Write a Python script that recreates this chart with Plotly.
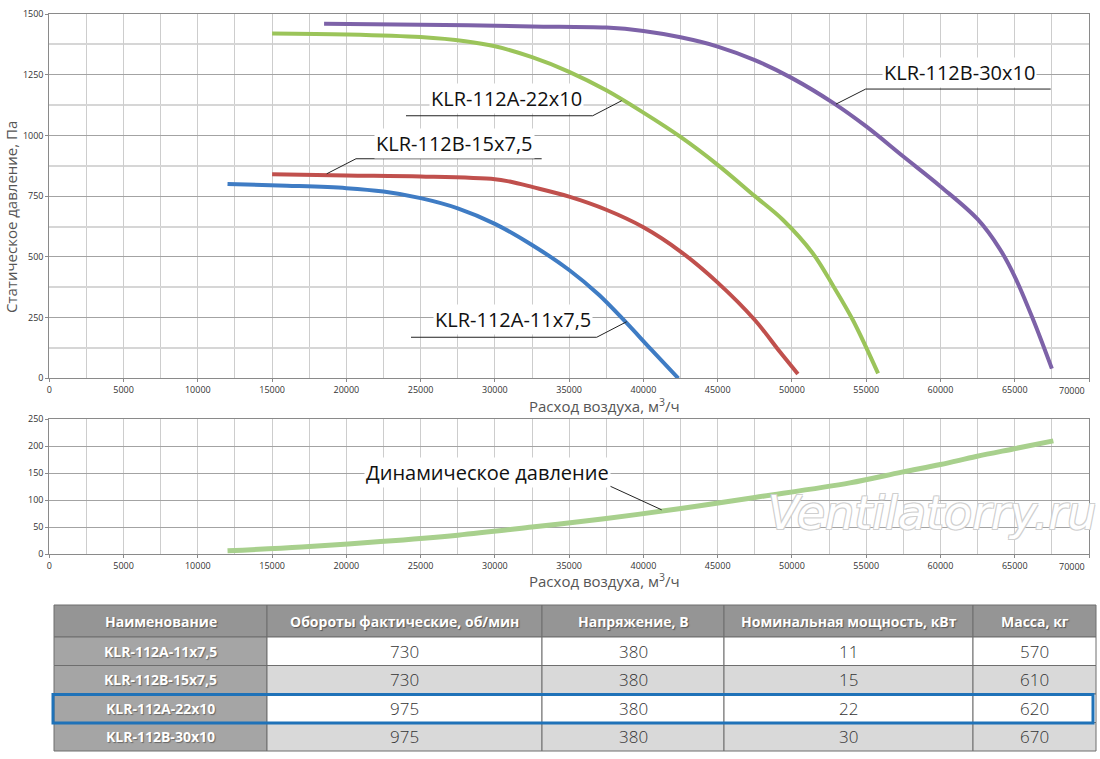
import plotly.graph_objects as go

# расход воздуха, м3/ч  ->  статическое давление, Па
flow_11 = [12000, 16000, 20000, 22500, 25000, 27500, 30000, 32500, 35000, 37000, 38800, 40500, 42350]
pres_11 = [800, 793, 783, 769, 742, 700, 636, 549, 446, 344, 232, 120, 0]

flow_15 = [15000, 20000, 25000, 30000, 31000, 32500, 35000, 37500, 40000, 42500, 45000, 47500, 49200, 50400]
pres_15 = [840, 835, 831, 820, 810, 788, 748, 694, 622, 522, 394, 240, 108, 18]

flow_22 = [15000, 20000, 25000, 28000, 30000, 32500, 35000, 37500, 40000, 42500, 45000, 47500, 49400, 51400,
           52800, 54100, 55800]
pres_22 = [1420, 1416, 1405, 1388, 1367, 1322, 1262, 1186, 1094, 994, 879, 750, 652, 515, 378, 240, 20]

flow_30 = [18500, 25000, 32500, 37500, 40000, 42500, 45000, 47500, 50000, 52800, 55000, 57500, 60000, 62500,
           64000, 65000, 66250, 67500]
pres_30 = [1460, 1456, 1449, 1444, 1430, 1404, 1366, 1310, 1236, 1133, 1037, 913, 790, 655, 532, 419, 240, 40]

# динамическое давление, Па
flow_dyn = [12000, 17000, 22300, 27500, 32500, 37500, 42400, 47500, 53900, 57400, 60000, 62400, 64900, 67600]
pres_dyn = [6, 13, 23, 35, 50, 66, 84, 105, 132, 152, 166, 181, 195, 210]

names = ["KLR-112A-11x7,5", "KLR-112B-15x7,5", "KLR-112A-22x10", "KLR-112B-30x10"]
colors = ["#3f7cc4", "#c0504d", "#9bc45a", "#7d62a8"]

# таблица
tbl_header = ["Наименование", "Обороты фактические, об/мин", "Напряжение, В",
              "Номинальная мощность, кВт", "Масса, кг"]
rpm = [730, 730, 975, 975]
voltage = [380, 380, 380, 380]
power = [11, 15, 22, 30]
mass = [570, 610, 620, 670]
highlight_row = 2

# подписи: текст, (x, y) текста, подчёркивание x0-x1 на y, точка на кривой
callouts_top = [
    ("KLR-112B-30x10", 61310, 1258, 54965, 67420, 1191, 52966, 1129),
    ("KLR-112A-22x10", 30750, 1154, 24015, 36585, 1081, 38537, 1143),
    ("KLR-112B-15x7,5", 27247, 968, 20650, 33150, 904, 18676, 842),
    ("KLR-112A-11x7,5", 31219, 244, 24352, 36854, 169, 38874, 233),
]
callout_dyn = ("Динамическое давление", 29470, 152, 21457, 37750, 126, 41230, 82)

x_max = 70000

W, H = 1100, 759
FONT = "Open Sans"

fig = go.Figure()

for fx, py, nm, col in zip([flow_11, flow_15, flow_22, flow_30], [pres_11, pres_15, pres_22, pres_30], names, colors):
    fig.add_trace(go.Scatter(x=fx, y=py, mode="lines", name=nm,
                             line=dict(color=col, width=4, shape="spline", smoothing=1.0),
                             xaxis="x", yaxis="y"))

fig.add_trace(go.Scatter(x=flow_dyn, y=pres_dyn, mode="lines", name="Динамическое давление",
                         line=dict(color="#a8d08d", width=5, shape="spline", smoothing=1.0),
                         xaxis="x2", yaxis="y2"))

xdom = [49.3 / W, 1089 / W]
tick_font = dict(family=FONT, size=9, color="#333")
axis_common = dict(range=[0, x_max], dtick=5000, tick0=0, tickformat="d", automargin=False,
                   showgrid=True, gridcolor="#cdcdcd", gridwidth=1,
                   minor=dict(dtick=2500, showgrid=True, gridcolor="#cdcdcd", gridwidth=1),
                   showline=True, linecolor="#8a8a8a", linewidth=1, mirror=True, zeroline=False,
                   ticks="outside", ticklen=3, tickcolor="#8a8a8a",
                   tickfont=tick_font, fixedrange=True)
yaxis_common = dict(automargin=False, tickformat="d", showgrid=True, gridcolor="#a3a3a3", gridwidth=1,
                    showline=True, linecolor="#8a8a8a", mirror=True, zeroline=False,
                    ticks="outside", ticklen=3, tickcolor="#8a8a8a",
                    tickfont=tick_font, fixedrange=True)

fig.update_layout(
    width=W, height=H, margin=dict(l=0, r=0, t=0, b=0, autoexpand=False),
    paper_bgcolor="white", plot_bgcolor="white", showlegend=False,
    xaxis=dict(domain=xdom, anchor="y", **axis_common),
    yaxis=dict(domain=[1 - 378.3 / H, 1 - 14 / H], anchor="x", range=[0, 1500], dtick=250,
               minor=dict(dtick=125, showgrid=True, gridcolor="#d6d6d6", gridwidth=2),
               **yaxis_common),
    xaxis2=dict(domain=xdom, anchor="y2", **axis_common),
    yaxis2=dict(domain=[1 - 554 / H, 1 - 419.3 / H], anchor="x2", range=[0, 250], dtick=50,
                **yaxis_common),
)

annotations = []
shapes = []


def add_callout(c, xr, yr):
    text, tx, ty, ux0, ux1, uy, cx, cy = c
    annotations.append(dict(text=text, x=tx, y=ty, xref=xr, yref=yr, showarrow=False,
                            xanchor="center", yanchor="middle",
                            font=dict(family=FONT, size=20, color="#111"),
                            bgcolor="white", borderpad=1))
    shapes.append(dict(type="line", xref=xr, yref=yr, x0=ux0, x1=ux1, y0=uy, y1=uy,
                       line=dict(color="#222", width=1)))
    # конец подчёркивания, ближайший к кривой
    ex = ux0 if abs(cx - ux0) < abs(cx - ux1) else ux1
    shapes.append(dict(type="line", xref=xr, yref=yr, x0=ex, x1=cx, y0=uy, y1=cy,
                       line=dict(color="#222", width=1)))


for c in callouts_top:
    add_callout(c, "x", "y")
add_callout(callout_dyn, "x2", "y2")


def paper_note(text, px, py, font, **kw):
    annotations.append(dict(text=text, x=px / W, y=1 - py / H, xref="paper", yref="paper",
                            xanchor="center", yanchor="middle", showarrow=False, font=font, **kw))


# последняя подпись оси X у правого края (в оригинале сдвинута влево)
for xr, yr in [("x", "y"), ("x2", "y2")]:
    annotations.append(dict(text=str(x_max), x=x_max, y=0, xref=xr, yref=yr, xanchor="right",
                            yanchor="top", yshift=-4, xshift=-2, showarrow=False, font=tick_font))

# подписи осей
title_font = dict(family=FONT, size=15, color="#555")
paper_note("Расход воздуха, м<sup>3</sup>/ч", 604, 405, title_font)
paper_note("Расход воздуха, м<sup>3</sup>/ч", 604, 580, title_font)
paper_note("Статическое давление, Па", 11, 217, title_font, textangle=-90)

# водяной знак
paper_note("<i>Ventilatorry.ru</i>", 932, 513,
           dict(family="DejaVu Sans", size=46, color="white",
                shadow="1px 1px 0 #cfcfcf, -1px -1px 0 #cfcfcf, 1px -1px 0 #cfcfcf, -1px 1px 0 #cfcfcf"))

# таблица из прямоугольников и подписей
col_edges = [54, 267, 542, 724, 973, 1096]
row_edges = [605, 637, 665.5, 694, 722.5, 751]
columns = [names, rpm, voltage, power, mass]
head_font = dict(family=FONT, size=14, color="white", shadow="1px 1px 1px #555")
name_font = dict(family=FONT, size=14, color="white", shadow="1px 1px 1px #666")
cell_font = dict(family=FONT, size=17, color="#333", weight=300)

for ci in range(len(columns)):
    x0, x1 = col_edges[ci], col_edges[ci + 1]
    for ri in range(len(names) + 1):
        y0, y1 = row_edges[ri], row_edges[ri + 1]
        if ri == 0:
            fill = "#959595"
        elif ci == 0:
            fill = "#a5a5a5"
        else:
            fill = "white" if ri % 2 == 1 else "#d9d9d9"
        shapes.append(dict(type="rect", xref="paper", yref="paper", layer="below",
                           x0=x0 / W, x1=x1 / W, y0=1 - y1 / H, y1=1 - y0 / H,
                           fillcolor=fill, line=dict(color="#6e6e6e", width=1)))
        if ri == 0:
            txt, fnt = "<b>%s</b>" % tbl_header[ci], head_font
        elif ci == 0:
            txt, fnt = "<b>%s</b>" % columns[ci][ri - 1], name_font
        else:
            txt, fnt = str(columns[ci][ri - 1]), cell_font
        paper_note(txt, (x0 + x1) / 2, (y0 + y1) / 2, fnt)

# выделенная строка таблицы
hy0, hy1 = row_edges[highlight_row + 1], row_edges[highlight_row + 2]
shapes.append(dict(type="rect", xref="paper", yref="paper", x0=53 / W, x1=1093 / W,
                   y0=1 - (hy1 + 0.5) / H, y1=1 - (hy0 + 0.5) / H,
                   line=dict(color="#1f72b8", width=3), layer="above"))

fig.update_layout(annotations=annotations, shapes=shapes)

fig.write_html("out.html", config={"displayModeBar": False},
               post_script="document.body.style.margin='0px';")
